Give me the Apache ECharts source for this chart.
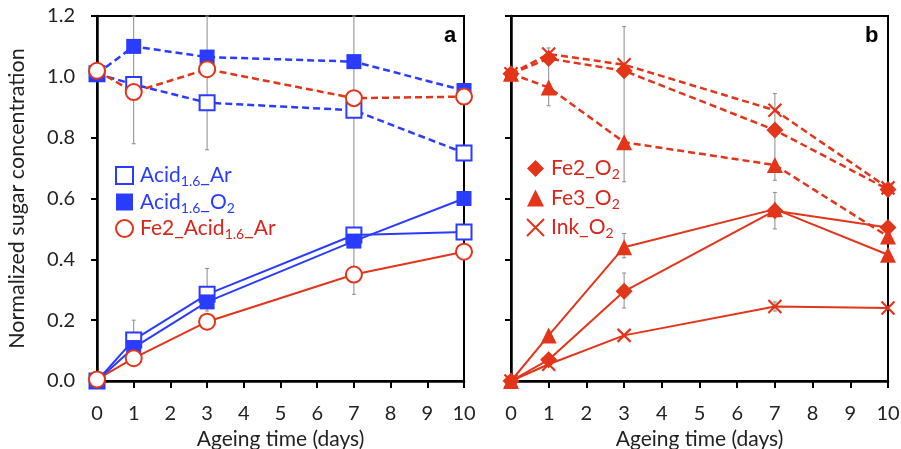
<!DOCTYPE html>
<html>
<head>
<meta charset="utf-8">
<script src="https://cdn.jsdelivr.net/npm/echarts@6/dist/echarts.min.js"></script>
<style>
  html, body { margin: 0; padding: 0; background: #fff; }
  #chart { width: 901px; height: 449px; }
</style>
</head>
<body>
<div id="chart"></div>
<script>
// ageing time (days)
const days = [0, 1, 3, 7, 10];

// panel a
const acidArDash = [1.01, 0.975, 0.915, 0.89, 0.75];
const acidArSolid = [0.0, 0.135, 0.285, 0.48, 0.49];
const acidO2Dash = [1.01, 1.10, 1.065, 1.05, 0.955];
const acidO2Solid = [0.0, 0.11, 0.26, 0.46, 0.60];
const fe2AcidArDash = [1.02, 0.95, 1.025, 0.93, 0.935];
const fe2AcidArSolid = [0.005, 0.075, 0.195, 0.35, 0.425];

// panel b
const fe2O2Dash = [1.01, 1.06, 1.02, 0.825, 0.63];
const fe2O2Solid = [0.0, 0.07, 0.295, 0.56, 0.505];
const fe3O2Dash = [1.01, 0.965, 0.785, 0.71, 0.475];
const fe3O2Solid = [0.0, 0.15, 0.44, 0.565, 0.415];
const inkO2Dash = [1.01, 1.075, 1.04, 0.89, 0.635];
const inkO2Solid = [0.0, 0.055, 0.15, 0.245, 0.24];

// error bars [day, low, high]
const errA = [[1, 0.78, 1.2], [1, 0.11, 0.2], [3, 0.76, 1.2], [3, 0.23, 0.37], [7, 0.285, 1.2]];
const errB = [[1, 0.905, 1.095], [3, 0.655, 1.165], [7, 0.66, 0.945], [3, 0.405, 0.485],
              [3, 0.24, 0.355], [7, 0.5, 0.62], [7, 0.23, 0.26]];

const yTicks = ['0.0', '0.2', '0.4', '0.6', '0.8', '1.0', '1.2'];

const BLUE = '#2a3cff';
const RED = '#e2351a';
const FONT = 'Lato';
const X_PATH = 'path://M0,0L10,10M10,0L0,10';

const legendText = {
    'Acid_Ar': 'Acid{s|1.6}_Ar',
    'Acid_O2': 'Acid{s|1.6}_O{s|2}',
    'Fe2_Acid_Ar': 'Fe2_Acid{s|1.6}_Ar',
    'Fe2_O2': 'Fe2_O{s|2}',
    'Fe3_O2': 'Fe3_O{s|2}',
    'Ink_O2': 'Ink_O{s|2}'
};

function pts(vals) {
    return days.map((d, i) => [d, vals[i]]);
}

function makeSeries(name, vals, axis, dashed, symbol, size, color, open) {
    return {
        name: name,
        type: 'line',
        xAxisIndex: axis,
        yAxisIndex: axis,
        data: pts(vals),
        symbol: symbol,
        symbolSize: size,
        z: 3,
        lineStyle: { color: color, width: dashed ? 2.5 : 2, type: dashed ? [7, 4] : 'solid' },
        itemStyle: open
            ? { color: '#fff', borderColor: color, borderWidth: 2 }
            : { color: color, borderColor: color, borderWidth: symbol === X_PATH ? 2.2 : 0 },
        emphasis: { disabled: true },
        animation: false
    };
}

function errSeries(data, axis) {
    return {
        type: 'custom',
        xAxisIndex: axis,
        yAxisIndex: axis,
        z: 1,
        silent: true,
        data: data,
        renderItem: function (params, api) {
            const x = api.value(0);
            const lo = api.coord([x, api.value(1)]);
            const hi = api.coord([x, api.value(2)]);
            const st = { stroke: '#8a8a8a', lineWidth: 1 };
            return {
                type: 'group',
                children: [
                    { type: 'line', shape: { x1: lo[0], y1: lo[1], x2: hi[0], y2: hi[1] }, style: st },
                    { type: 'line', shape: { x1: lo[0] - 2, y1: lo[1], x2: lo[0] + 2, y2: lo[1] }, style: st },
                    { type: 'line', shape: { x1: hi[0] - 2, y1: hi[1], x2: hi[0] + 2, y2: hi[1] }, style: st }
                ]
            };
        },
        animation: false
    };
}

function xAxis(idx) {
    return {
        type: 'value',
        gridIndex: idx,
        min: 0, max: 10, interval: 1,
        name: 'Ageing time (days)',
        nameLocation: 'middle',
        nameGap: 44,
        nameTextStyle: { fontFamily: FONT, fontSize: 21, color: '#222' },
        axisLine: { lineStyle: { color: '#000', width: 2.5 } },
        axisTick: { inside: false, length: 7, lineStyle: { color: '#000', width: 2 } },
        axisLabel: { fontFamily: FONT, fontSize: 20, color: '#222', margin: 23 },
        splitLine: { show: false }
    };
}

function yAxis(idx) {
    return {
        type: 'value',
        gridIndex: idx,
        min: 0, max: 1.2, interval: 0.2,
        name: idx === 0 ? 'Normalized sugar concentration' : '',
        nameLocation: 'middle',
        nameGap: 69,
        nameTextStyle: { fontFamily: FONT, fontSize: 21.5, color: '#222' },
        axisLine: { lineStyle: { color: '#000', width: 2.5 } },
        axisTick: { inside: false, length: 6, lineStyle: { color: '#000', width: 2 } },
        axisLabel: {
            show: idx === 0,
            fontFamily: FONT, fontSize: 20, color: '#222', margin: 22,
            formatter: function (v) { return yTicks[Math.round(v / 0.2)]; }
        },
        splitLine: { show: false }
    };
}

function legend(left, top, gap, items) {
    return {
        orient: 'vertical',
        left: left,
        top: top,
        itemGap: gap,
        itemWidth: 17,
        itemHeight: 17,
        selectedMode: false,
        data: items,
        formatter: function (name) { return legendText[name]; },
        textStyle: {
            fontFamily: FONT,
            fontSize: 21,
            padding: [0, 0, 0, 2],
            rich: {
                s: { fontFamily: FONT, fontSize: 14, padding: [12, 0, 0, 0] }
            }
        }
    };
}

const chart = echarts.init(document.getElementById('chart'), null, { renderer: 'canvas' });

const option = {
    backgroundColor: '#fff',
    animation: false,
    title: [
        { text: 'a', left: 439, top: 20, textStyle: { fontFamily: 'Liberation Sans', fontWeight: 'bold', fontSize: 22, color: '#000' } },
        { text: 'b', left: 860, top: 20, textStyle: { fontFamily: 'Liberation Sans', fontWeight: 'bold', fontSize: 22, color: '#000' } }
    ],
    grid: [
        { left: 97, right: 437, top: 16, bottom: 68, outerBoundsMode: 'none', containLabel: false,
          show: true, borderColor: '#000', borderWidth: 2 },
        { left: 511, right: 13, top: 16, bottom: 68, outerBoundsMode: 'none', containLabel: false,
          show: true, borderColor: '#000', borderWidth: 2 }
    ],
    xAxis: [xAxis(0), xAxis(1)],
    yAxis: [yAxis(0), yAxis(1)],
    legend: [
        legend(110, 160, 3, [
            { name: 'Acid_Ar', icon: 'rect', textStyle: { color: BLUE } },
            { name: 'Acid_O2', icon: 'rect', textStyle: { color: BLUE } },
            { name: 'Fe2_Acid_Ar', icon: 'circle', textStyle: { color: '#d9251a' } }
        ]),
        legend(521, 153, 6, [
            { name: 'Fe2_O2', icon: 'diamond', textStyle: { color: '#d9251a' } },
            { name: 'Fe3_O2', icon: 'triangle', textStyle: { color: '#d9251a' } },
            { name: 'Ink_O2', icon: X_PATH, textStyle: { color: '#d9251a' } }
        ])
    ],
    series: [
        errSeries(errA, 0),
        errSeries(errB, 1),
        makeSeries('Acid_Ar', acidArDash, 0, true, 'rect', 15, BLUE, true),
        makeSeries('Acid_O2', acidO2Dash, 0, true, 'rect', 15, BLUE, false),
        makeSeries('Fe2_Acid_Ar', fe2AcidArDash, 0, true, 'circle', 16, RED, true),
        makeSeries('Acid_Ar', acidArSolid, 0, false, 'rect', 15, BLUE, true),
        makeSeries('Acid_O2', acidO2Solid, 0, false, 'rect', 15, BLUE, false),
        makeSeries('Fe2_Acid_Ar', fe2AcidArSolid, 0, false, 'circle', 16, RED, true),
        makeSeries('Fe2_O2', fe2O2Dash, 1, true, 'diamond', 17, RED, false),
        makeSeries('Fe3_O2', fe3O2Dash, 1, true, 'triangle', 16, RED, false),
        makeSeries('Ink_O2', inkO2Dash, 1, true, X_PATH, 13, RED, false),
        makeSeries('Fe2_O2', fe2O2Solid, 1, false, 'diamond', 17, RED, false),
        makeSeries('Fe3_O2', fe3O2Solid, 1, false, 'triangle', 16, RED, false),
        makeSeries('Ink_O2', inkO2Solid, 1, false, X_PATH, 13, RED, false)
    ]
};

chart.setOption(option);
window.addEventListener('resize', function () {
    chart.resize();
});
</script>
</body>
</html>
